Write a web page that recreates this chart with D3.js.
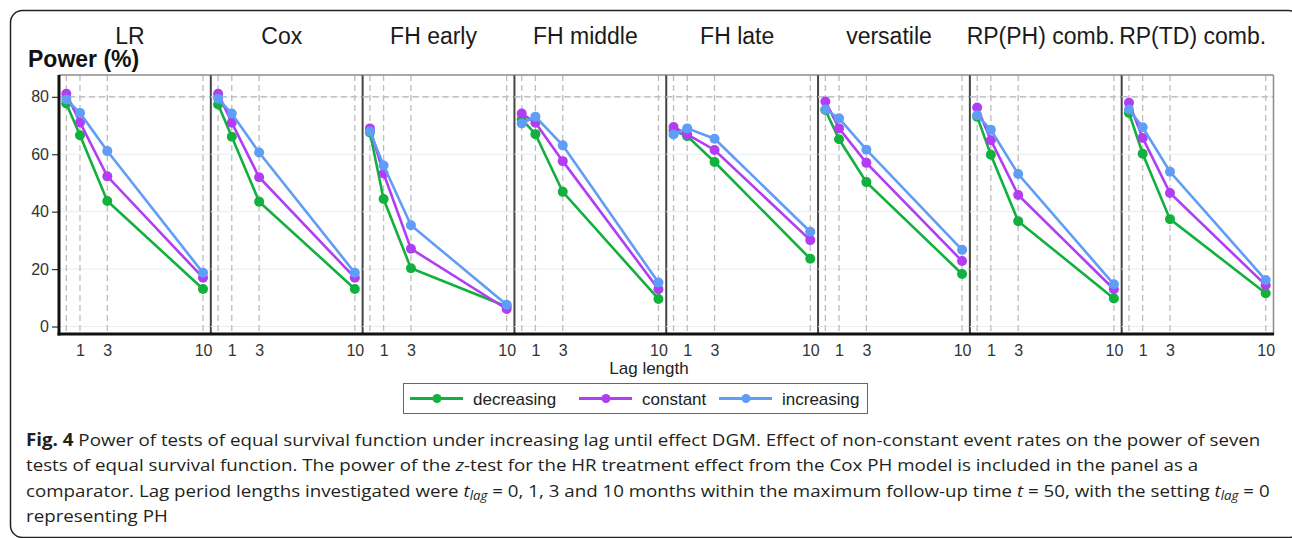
<!DOCTYPE html>
<html>
<head>
<meta charset="utf-8">
<script src="https://cdn.jsdelivr.net/npm/d3@7"></script>
<style>
  body { margin: 0; background: #fff; }
  svg text { font-family: "Liberation Sans", Arial, sans-serif; }
</style>
</head>
<body>
<div id="chart"></div>
<script>
// chart data
var panels = ["LR", "Cox", "FH early", "FH middle", "FH late", "versatile", "RP(PH) comb.", "RP(TD) comb."];
var lags = [0, 1, 3, 10];
var seriesNames = ["decreasing", "constant", "increasing"];
var seriesColors = ["#12b03e", "#b23df2", "#5f9df6"];

// one row per panel, values at lag 0, 1, 3, 10
var decreasing = [
    [77.7, 66.6, 43.7, 13.1],
    [77.3, 66.1, 43.5, 13.1],
    [67.6, 44.4, 20.3, 7.0],
    [72.2, 67.0, 46.9, 9.6],
    [68.2, 66.3, 57.3, 23.6],
    [75.4, 65.2, 50.3, 18.3],
    [73.1, 59.8, 36.7, 9.8],
    [74.4, 60.2, 37.4, 11.6]
];
var constant = [
    [81.1, 71.1, 52.3, 17.0],
    [81.1, 71.0, 52.0, 17.0],
    [69.0, 53.3, 27.1, 6.1],
    [74.2, 71.0, 57.6, 13.0],
    [69.5, 66.9, 61.5, 30.1],
    [78.4, 69.0, 57.0, 22.8],
    [76.3, 64.9, 45.8, 13.0],
    [77.9, 65.7, 46.5, 14.4]
];
var increasing = [
    [79.1, 74.4, 61.1, 18.7],
    [79.3, 74.2, 60.6, 18.7],
    [67.9, 56.1, 35.3, 7.6],
    [70.7, 73.1, 63.1, 15.3],
    [66.9, 69.0, 65.4, 33.0],
    [75.6, 72.5, 61.6, 26.7],
    [73.6, 68.5, 53.1, 14.7],
    [75.6, 69.4, 53.9, 16.2]
];
var yTicks = [0, 20, 40, 60, 80];
var xTickLabels = [1, 3, 10];

var svgWidth = 1292;
var svgHeight = 538;

var svg = d3.select("#chart")
    .append("svg")
    .attr("width", svgWidth)
    .attr("height", svgHeight);

// outer rounded frame
svg.append("rect")
    .attr("x", 10.5).attr("y", 10.5)
    .attr("width", 1290).attr("height", 527)
    .attr("rx", 12)
    .attr("fill", "none")
    .attr("stroke", "#222")
    .attr("stroke-width", 1.5);

var plotTop = 75, plotBottom = 334;

var xPanel = d3.scaleBand()
    .domain(panels)
    .range([59, 1273.5]);
var bw = xPanel.bandwidth();

var x = d3.scaleLinear()
    .domain([-0.534, 10.57])
    .range([0, bw]);

var y = d3.scaleLinear()
    .domain([-2.6, 87.6])
    .range([plotBottom, plotTop]);

var allSeries = [decreasing, constant, increasing];

var line = d3.line()
    .x((d, i) => x(lags[i]))
    .y(d => y(d));

panels.forEach(function(name, p) {
    var g = svg.append("g")
        .attr("transform", `translate(${xPanel(name)}, 0)`);

    // faint horizontal grid
    g.selectAll(".hgrid")
        .data(yTicks)
        .enter()
        .append("line")
        .attr("x1", 0).attr("x2", bw)
        .attr("y1", d => y(d)).attr("y2", d => y(d))
        .attr("stroke", "#e6eef0")
        .attr("stroke-width", 1);

    // dashed reference at 80
    g.append("line")
        .attr("x1", 0).attr("x2", bw)
        .attr("y1", y(80)).attr("y2", y(80))
        .attr("stroke", "#b4b4b4")
        .attr("stroke-width", 1.3)
        .attr("stroke-dasharray", "6,4");

    // dashed verticals at each lag
    g.selectAll(".vgrid")
        .data(lags)
        .enter()
        .append("line")
        .attr("x1", d => x(d)).attr("x2", d => x(d))
        .attr("y1", plotTop).attr("y2", plotBottom)
        .attr("stroke", "#bdbdbd")
        .attr("stroke-width", 1.3)
        .attr("stroke-dasharray", "6,4");

    // series
    allSeries.forEach(function(s, k) {
        g.append("path")
            .datum(s[p])
            .attr("d", line)
            .attr("fill", "none")
            .attr("stroke", seriesColors[k])
            .attr("stroke-width", 2.6);
        g.selectAll(".pt" + k)
            .data(s[p])
            .enter()
            .append("circle")
            .attr("cx", (d, i) => x(lags[i]))
            .attr("cy", d => y(d))
            .attr("r", 5)
            .attr("fill", seriesColors[k]);
    });

    // top border
    g.append("line")
        .attr("x1", 0).attr("x2", bw)
        .attr("y1", plotTop).attr("y2", plotTop)
        .attr("stroke", "#8c8c8c")
        .attr("stroke-width", 1.5);

    // right divider
    g.append("line")
        .attr("x1", bw).attr("x2", bw)
        .attr("y1", plotTop).attr("y2", plotBottom)
        .attr("stroke", p == panels.length - 1 ? "#8c8c8c" : "#444")
        .attr("stroke-width", p == panels.length - 1 ? 1.5 : 2);

    // x tick labels
    var xAxis = d3.axisBottom(x)
        .tickValues(xTickLabels)
        .tickSize(0)
        .tickPadding(11);
    var ax = g.append("g")
        .attr("transform", `translate(0, ${plotBottom})`)
        .call(xAxis);
    ax.select(".domain").remove();
    ax.selectAll("text")
        .style("font-size", "16px")
        .style("font-family", "Liberation Sans, Arial, sans-serif")
        .style("fill", "#333");

    // panel title
    g.append("text")
        .attr("x", bw / 2 - 5)
        .attr("y", 44)
        .attr("text-anchor", "middle")
        .style("font-size", "23px")
        .attr("fill", "#1a1a1a")
        .text(name);
});

// y axis
var yAxis = d3.axisLeft(y)
    .tickValues(yTicks)
    .tickSize(7)
    .tickPadding(3);
var yg = svg.append("g")
    .attr("transform", `translate(59, 0)`)
    .call(yAxis);
yg.select(".domain").remove();
yg.selectAll(".tick line").attr("stroke", "#333").attr("stroke-width", 1.2);
yg.selectAll("text")
    .style("font-size", "16px")
    .style("font-family", "Liberation Sans, Arial, sans-serif")
    .style("fill", "#333");

// thick axis lines
svg.append("line")
    .attr("x1", 59).attr("x2", 59)
    .attr("y1", plotTop).attr("y2", plotBottom + 1.5)
    .attr("stroke", "#111").attr("stroke-width", 3);
svg.append("line")
    .attr("x1", 57.5).attr("x2", 1274)
    .attr("y1", plotBottom).attr("y2", plotBottom)
    .attr("stroke", "#111").attr("stroke-width", 3);

// axis titles
svg.append("text")
    .attr("x", 28).attr("y", 67)
    .style("font-size", "23px")
    .attr("font-weight", "bold")
    .attr("fill", "#111")
    .text("Power (%)");

svg.append("text")
    .attr("x", 649).attr("y", 374)
    .attr("text-anchor", "middle")
    .style("font-size", "17px")
    .attr("fill", "#222")
    .text("Lag length");

// legend
var legend = svg.append("g");
legend.append("rect")
    .attr("x", 403.5).attr("y", 383.5)
    .attr("width", 464).attr("height", 30)
    .attr("fill", "#fff")
    .attr("stroke", "#666")
    .attr("stroke-width", 1);

var legendX = [410, 579, 719];
seriesNames.forEach(function(n, k) {
    var lx = legendX[k];
    legend.append("line")
        .attr("x1", lx).attr("x2", lx + 53)
        .attr("y1", 398.5).attr("y2", 398.5)
        .attr("stroke", seriesColors[k])
        .attr("stroke-width", 3);
    legend.append("circle")
        .attr("cx", lx + 27).attr("cy", 398.5)
        .attr("r", 4.5)
        .attr("fill", seriesColors[k]);
    legend.append("text")
        .attr("x", lx + 63).attr("y", 405)
        .style("font-size", "17px")
        .attr("fill", "#222")
        .text(n);
});

// caption
var cap = svg.append("g")
    .attr("fill", "#231f20");

var capLines = [];
function capText(yy) {
    var t = cap.append("text")
        .attr("y", yy)
        .style("font-family", "Open Sans, sans-serif")
        .style("font-size", "17px");
    capLines.push(t);
    return t;
}
function tlag(t) {
    t.append("tspan").attr("font-style", "italic").text("t");
    t.append("tspan").attr("font-style", "italic").style("font-size", "12px").attr("dy", 3).text("lag");
}

var l1 = capText(446);
l1.append("tspan").attr("font-weight", "bold").text("Fig. 4");
l1.append("tspan").text(" Power of tests of equal survival function under increasing lag until effect DGM. Effect of non-constant event rates on the power of seven");

var l2 = capText(471.5);
l2.append("tspan").text("tests of equal survival function. The power of the ");
l2.append("tspan").attr("font-style", "italic").text("z");
l2.append("tspan").text("-test for the HR treatment effect from the Cox PH model is included in the panel as a");

var l3 = capText(497);
l3.append("tspan").text("comparator. Lag period lengths investigated were ");
tlag(l3);
l3.append("tspan").attr("dy", -3).text(" = 0, 1, 3 and 10 months within the maximum follow-up time ");
l3.append("tspan").attr("font-style", "italic").text("t");
l3.append("tspan").text(" = 50, with the setting ");
tlag(l3);
l3.append("tspan").attr("dy", -3).text(" = 0");

var l4 = capText(522.5);
l4.append("tspan").text("representing PH");

// squeeze caption horizontally so that the first line fits its width
var w1 = l1.node().getComputedTextLength();
var k = 1236 / w1;
capLines.forEach(function(t) {
    t.attr("transform", `translate(26, 0) scale(${k}, 1)`);
});
</script>
</body>
</html>
